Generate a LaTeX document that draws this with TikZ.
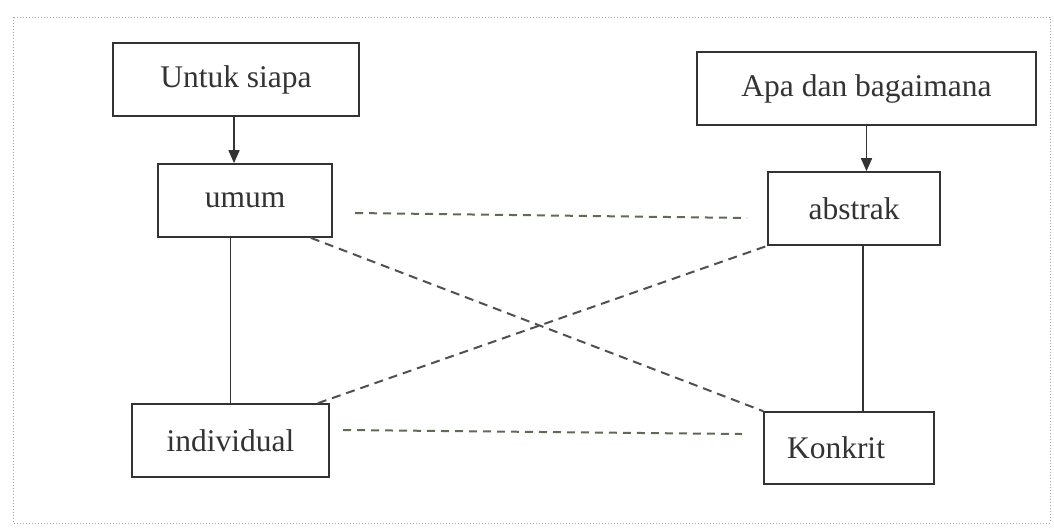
\documentclass[tikz,border=0pt]{standalone}
\usepackage{fontspec}
\setmainfont{Liberation Serif}
\usetikzlibrary{arrows.meta,calc}
\definecolor{ink}{HTML}{333333}
\definecolor{dgreen}{HTML}{5E6B55}
\definecolor{dgray}{HTML}{505050}
\begin{document}
\begin{tikzpicture}[x=1pt,y=-1pt,
  box/.style={draw=ink,line width=1.7pt,rectangle,inner sep=0pt,font=\fontsize{31.5}{36}\selectfont,text=ink,fill=white},
  link/.style={draw=ink,line width=1.7pt},
  arr/.style={link,-{Triangle[length=13pt,width=11pt]}},
  greendash/.style={draw=dgreen,line width=2pt,dash pattern=on 8pt off 6pt},
  graydash/.style={draw=dgray,line width=2pt,dash pattern=on 9pt off 6pt}]
\useasboundingbox (0,0) rectangle (1054,528);
\draw[gray!70,line width=1pt,dotted] (13,17) rectangle (1050,523);
\node[box,minimum width=246pt,minimum height=73pt] (untuk) at (236,79.5) {Untuk siapa};
\node[box,minimum width=339pt,minimum height=73pt] (apa) at (866.5,88.5) {Apa dan bagaimana};
\node[box,minimum width=174pt,minimum height=73pt] (umum) at (245,200.5) {umum};
\node[box,minimum width=172pt,minimum height=73pt] (abstrak) at (854,208.5) {abstrak};
\node[box,minimum width=197pt,minimum height=73pt] (individual) at (230.5,440.5) {individual};
\node[box,minimum width=170pt,minimum height=72pt] (konkrit) at (849,448) {\kern-26pt Konkrit};
% arrows
\draw[arr] ([xshift=-2pt]untuk.south) -- ([xshift=-2pt]untuk.south |- umum.north);
\draw[arr] (apa.south) -- (apa.south |- abstrak.north);
% solid lines
\draw[link] (umum.south -| individual.north) -- (individual.north);
\draw[link] ([xshift=9pt]abstrak.south) -- ([xshift=9pt]abstrak.south |- konkrit.north);
% green dashed
\coordinate (g1a) at (355,213);
\coordinate (g1b) at (747,218);
\coordinate (g2a) at (343,430);
\coordinate (g2b) at (742,434);
\draw[greendash] (g1a) -- (g1b);
\draw[greendash] (g2a) -- (g2b);
% crossing dashed
\draw[graydash] ([xshift=-22pt]umum.south east) -- (konkrit.north west);
\draw[graydash] ([xshift=-12pt]individual.north east) -- (abstrak.south west);
\end{tikzpicture}
\end{document}
